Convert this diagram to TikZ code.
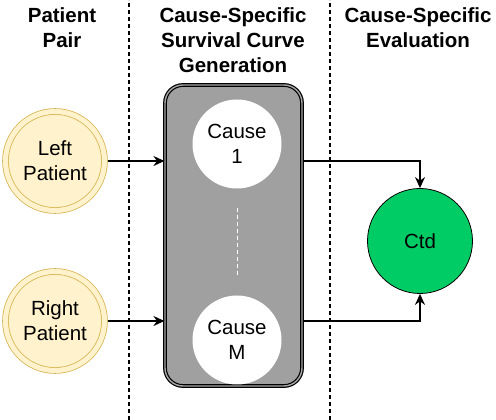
\documentclass[tikz,border=0pt]{standalone}
\usepackage{fontspec}
\setmainfont{Liberation Sans}
\usetikzlibrary{arrows.meta}

\definecolor{patientfill}{HTML}{FFF2CC}
\definecolor{patientline}{HTML}{D6B656}
\definecolor{ctdgreen}{HTML}{00CC66}
\definecolor{boxgray}{HTML}{A0A0A0}

\begin{document}
\begin{tikzpicture}[x=1pt, y=1pt,
  txt/.style={font=\fontsize{20.5}{25}\selectfont, align=center},
  header/.style={font=\fontsize{20.5}{25}\selectfont\bfseries, align=center, anchor=north, inner sep=0pt},
  patient/.style={txt, circle, minimum size=99pt, inner sep=0pt, fill=patientfill, draw=patientline, double=patientfill, double distance=5pt, line width=0.8pt},
  cause/.style={txt, circle, minimum size=89pt, inner sep=0pt, fill=white},
  sep/.style={line width=1.3pt, dash pattern=on 4pt off 3pt},
  arr/.style={-{Stealth[length=11pt,width=10pt]}, line width=1.3pt}]
  \useasboundingbox (0,0) rectangle (496,420);

  % column separators
  \draw[sep] (129,0) -- (129,420);
  \draw[sep] (330,0) -- (330,420);

  % headers
  \node[header] (hpair) at (62,413) {Patient\\Pair};
  \node[header] (hgen) at (233,413) {Cause-Specific\\Survival Curve\\Generation};
  \node[header] (heval) at (418,413) {Cause-Specific\\Evaluation};

  % patients
  \node[patient] (lp) at (55,259) {Left\\Patient};
  \node[patient] (rp) at (55,99) {Right\\Patient};

  % generator block
  \node[draw=black, double=black!35, double distance=1.4pt, line width=1.2pt, fill=boxgray,
        rounded corners=18pt, minimum width=137pt, minimum height=301pt] (gen) at (233.5,184.5) {};
  \node[cause] (c1) at (237,276) {Cause\\1};
  \node[cause] (cM) at (237,80) {Cause\\M};
  \draw[white, line width=1pt, dash pattern=on 4pt off 3pt, shorten <=19pt, shorten >=18pt] (c1) -- (cM);

  % evaluation
  \node[txt, circle, draw, fill=ctdgreen, minimum size=105pt, inner sep=0pt, line width=0.8pt] (ctd) at (420,179) {Ctd};

  % connectors
  \draw[arr, shorten <=3pt] (lp) -- (lp -| gen.west);
  \draw[arr, shorten <=3pt] (rp) -- (rp -| gen.west);
  \draw[arr] (lp -| gen.east) -| (ctd);
  \draw[arr] (rp -| gen.east) -| (ctd);
\end{tikzpicture}
\end{document}
